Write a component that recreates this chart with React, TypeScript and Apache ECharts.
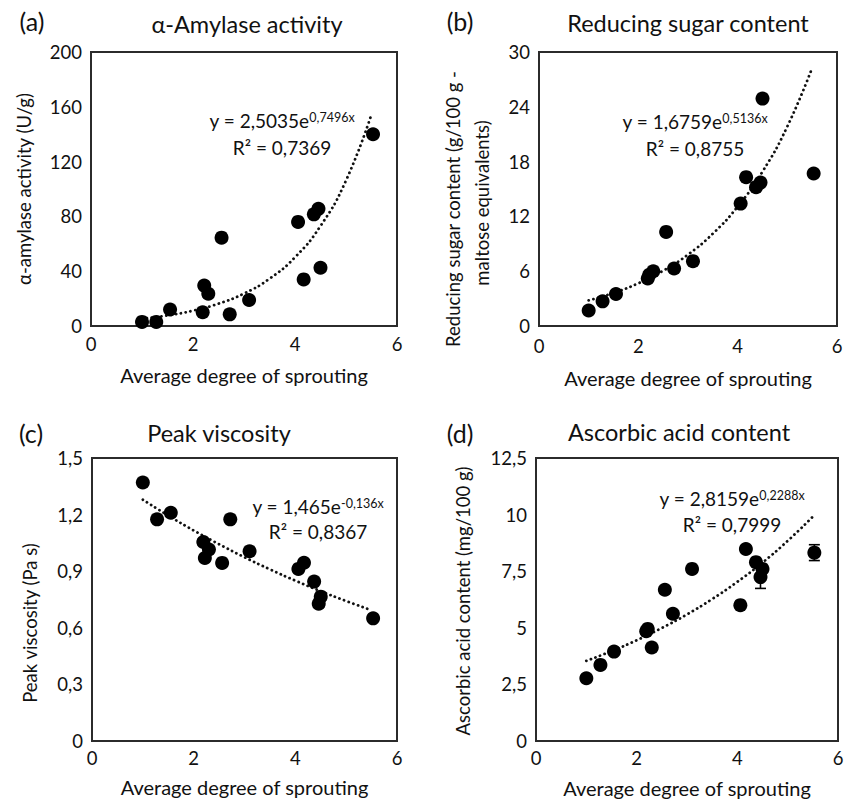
import React, { useEffect, useRef } from 'react';
import * as echarts from 'echarts';

// Average degree of sprouting (shared x values of the 15 samples)
const sprouting = [1.0, 1.28, 1.55, 2.19, 2.22, 2.3, 2.56, 2.72, 3.1, 4.06, 4.17, 4.37, 4.46, 4.5, 5.53];
// (a) alpha-amylase activity (U/g)
const amylase = [3, 3, 12, 10, 29.5, 23.5, 64.5, 8.5, 19, 76, 34, 81.5, 85.5, 42.5, 140];
// (b) reducing sugar content (g/100 g maltose equivalents)
const reducingSugar = [1.7, 2.7, 3.5, 5.2, 5.6, 6.0, 10.3, 6.3, 7.1, 13.4, 16.3, 15.2, 15.7, 24.9, 16.7];
// (c) peak viscosity (Pa s)
const peakViscosity = [1.37, 1.175, 1.21, 1.055, 0.97, 1.015, 0.944, 1.175, 1.006, 0.912, 0.945, 0.845, 0.728, 0.765, 0.65];
// (d) ascorbic acid content (mg/100 g) and its visible error bars
const ascorbicAcid = [2.77, 3.36, 3.95, 4.85, 4.95, 4.13, 6.68, 5.62, 7.6, 6.0, 8.48, 7.9, 7.24, 7.6, 8.32];
const ascorbicErr = [0, 0, 0, 0, 0, 0, 0, 0, 0, 0, 0, 0, 0.5, 0, 0.35];

// Dotted exponential trend lines
const trendX = [1, 1.5, 2, 2.5, 3, 3.5, 4, 4.5, 5, 5.5];
const trendA = [5.3, 7.7, 11.2, 16.3, 23.7, 34.5, 50.2, 73.0, 106.2, 154.6];
const trendB = [2.8, 3.62, 4.68, 6.05, 7.82, 10.11, 13.08, 16.9, 21.85, 28.26];
const trendC = [1.279, 1.195, 1.116, 1.043, 0.974, 0.91, 0.85, 0.794, 0.742, 0.693];
const trendD = [3.54, 3.97, 4.45, 4.99, 5.59, 6.27, 7.03, 7.88, 8.84, 9.91];

const titles = ['α-Amylase activity', 'Reducing sugar content', 'Peak viscosity', 'Ascorbic acid content'];
const panelLetters = ['(a)', '(b)', '(c)', '(d)'];
const xName = 'Average degree of sprouting';
const yTicks = [
  { max: 200, interval: 40 },
  { max: 30, interval: 6 },
  { max: 1.5, interval: 0.3 },
  { max: 12.5, interval: 2.5 },
];
const equations = [
  { main: 'y = 2,5035e', exp: '0,7496x', r2: 'R² = 0,7369' },
  { main: 'y = 1,6759e', exp: '0,5136x', r2: 'R² = 0,8755' },
  { main: 'y = 1,465e', exp: '-0,136x', r2: 'R² = 0,8367' },
  { main: 'y = 2,8159e', exp: '0,2288x', r2: 'R² = 0,7999' },
];

const FONT = 'Lato, "Open Sans", sans-serif';
const TXT = '#111';

const grids = [
  { left: 91, top: 52, width: 306, height: 274 },
  { left: 539, top: 52, width: 298, height: 274 },
  { left: 92, top: 458, width: 305, height: 283 },
  { left: 536, top: 458, width: 302, height: 283 },
];
const xLabelMargin = [8, 10, 7, 7];
const xNameGap = [39, 42, 36, 37];
const titlePos = [[247, 24], [688, 23], [219, 433], [679, 432]];
const letterPos = [[32, 21], [460, 21], [31, 433], [460, 433]];
const eqPos = [
  [282, 120, 147],
  [695, 121, 148],
  [318, 506, 531],
  [732, 498, 524],
];

function text(x: number, y: number, str: string, size: number, opts: any = {}) {
  return {
    type: 'text',
    x,
    y,
    rotation: opts.rotation || 0,
    silent: true,
    style: {
      text: str,
      fontSize: size,
      fontFamily: FONT,
      fill: TXT,
      align: 'center',
      textAlign: 'center',
      verticalAlign: 'middle',
      textVerticalAlign: 'middle',
      rich: opts.rich,
    },
  };
}

export default function App() {
  const ref = useRef<HTMLDivElement>(null);
  useEffect(() => {
    if (!ref.current) return;
    const chart = echarts.init(ref.current, undefined, { renderer: 'svg' });
    const values = [amylase, reducingSugar, peakViscosity, ascorbicAcid];
    const trends = [trendA, trendB, trendC, trendD];

    const fmt = (v: number) => String(+v.toFixed(2)).replace('.', ',');

    const series: any[] = [];
    values.forEach((vals, i) => {
      series.push({
        type: 'line',
        xAxisIndex: i,
        yAxisIndex: i,
        data: trendX.map((x, k) => [x, trends[i][k]]),
        smooth: true,
        showSymbol: false,
        symbol: 'none',
        lineStyle: { color: '#111', width: 2.8, type: [0.1, 4.8], cap: 'round' },
        z: 2,
      });
      series.push({
        type: 'scatter',
        xAxisIndex: i,
        yAxisIndex: i,
        data: sprouting.map((x, k) => [x, vals[k]]),
        symbol: 'circle',
        symbolSize: 14,
        itemStyle: { color: '#000', opacity: 1 },
        z: 3,
      });
    });
    series.push({
      type: 'custom',
      xAxisIndex: 3,
      yAxisIndex: 3,
      z: 4,
      data: sprouting
        .map((x, k) => [x, ascorbicAcid[k] - ascorbicErr[k], ascorbicAcid[k] + ascorbicErr[k], ascorbicErr[k]])
        .filter((d) => d[3] > 0),
      renderItem: (params: any, api: any) => {
        const x = api.value(0);
        const lo = api.coord([x, api.value(1)]);
        const hi = api.coord([x, api.value(2)]);
        const hw = 5.5;
        const st = { stroke: '#000', lineWidth: 1.6 };
        return {
          type: 'group',
          children: [
            { type: 'line', shape: { x1: lo[0], y1: lo[1], x2: hi[0], y2: hi[1] }, style: st },
            { type: 'line', shape: { x1: lo[0] - hw, y1: lo[1], x2: lo[0] + hw, y2: lo[1] }, style: st },
            { type: 'line', shape: { x1: hi[0] - hw, y1: hi[1], x2: hi[0] + hw, y2: hi[1] }, style: st },
          ],
        };
      },
    });

    const graphic: any[] = [];
    titles.forEach((t, i) => {
      graphic.push(text(titlePos[i][0], titlePos[i][1], t, 23.5));
      graphic.push(text(letterPos[i][0], letterPos[i][1], panelLetters[i], 25));
      const eq = equations[i];
      graphic.push(
        text(eqPos[i][0], eqPos[i][1], eq.main + '{sup|' + eq.exp + '}', 19, {
          rich: { sup: { fontSize: 12.5, fontFamily: FONT, fill: TXT, verticalAlign: 'top' } },
        })
      );
      graphic.push(text(eqPos[i][0], eqPos[i][2], eq.r2, 19));
    });
    // y-axis names
    graphic.push(text(24, 189, 'α-amylase activity (U/g)', 18.5, { rotation: Math.PI / 2 }));
    graphic.push(text(453, 209, 'Reducing sugar content (g/100 g -', 18.5, { rotation: Math.PI / 2 }));
    graphic.push(text(482, 203, 'maltose equivalents)', 18.5, { rotation: Math.PI / 2 }));
    graphic.push(text(30, 623, 'Peak viscosity (Pa s)', 18.5, { rotation: Math.PI / 2 }));
    graphic.push(text(463, 601, 'Ascorbic acid content (mg/100 g)', 18.5, { rotation: Math.PI / 2 }));

    const option: any = {
      animation: false,
      backgroundColor: '#fff',
      grid: grids.map((g) => ({
        ...g,
        show: true,
        borderColor: '#2b2b2b',
        borderWidth: 2,
        backgroundColor: 'transparent',
        containLabel: false,
      })),
      xAxis: grids.map((_, i) => ({
        type: 'value',
        gridIndex: i,
        min: 0,
        max: 6,
        interval: 2,
        axisLine: { show: false },
        axisTick: { show: false },
        splitLine: { show: false },
        axisLabel: { fontSize: 18.5, fontFamily: FONT, color: TXT, margin: xLabelMargin[i] },
        name: xName,
        nameLocation: 'middle',
        nameGap: xNameGap[i],
        nameTextStyle: { fontSize: 20, fontFamily: FONT, color: TXT },
      })),
      yAxis: grids.map((_, i) => ({
        type: 'value',
        gridIndex: i,
        min: 0,
        max: yTicks[i].max,
        interval: yTicks[i].interval,
        axisLine: { show: false },
        axisTick: { show: false },
        splitLine: { show: false },
        axisLabel: { fontSize: 18.5, fontFamily: FONT, color: TXT, margin: 9, formatter: fmt },
      })),
      series,
      graphic,
    };
    chart.setOption(option);
    return () => chart.dispose();
  }, []);
  return (
    <div
      ref={ref}
      style={{ position: 'fixed', left: 0, top: 0, width: 851, height: 802, background: '#fff' }}
    />
  );
}
